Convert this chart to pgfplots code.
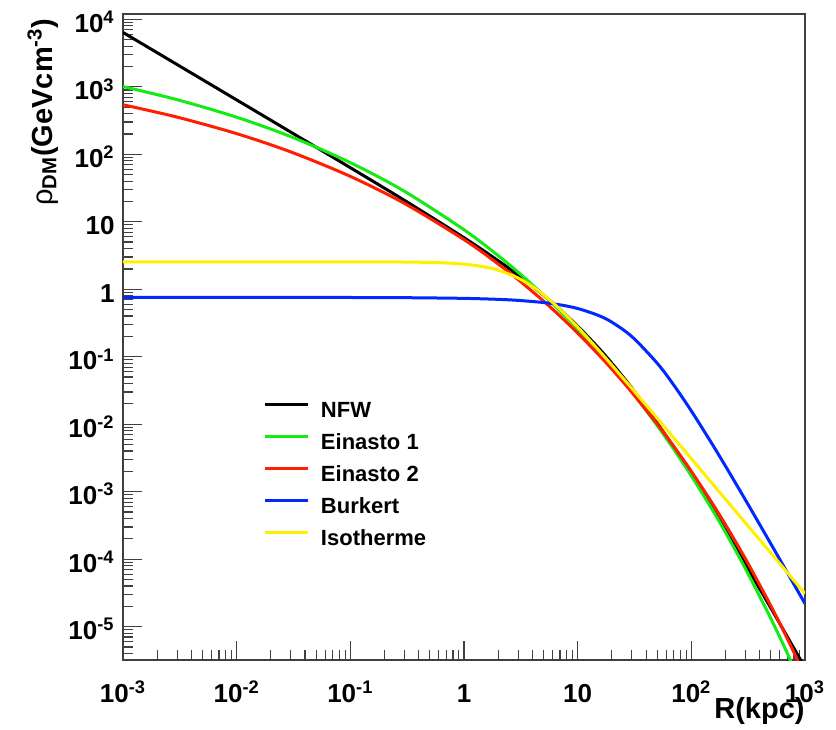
\documentclass[border=0pt]{standalone}
\usepackage{fontspec}
\setmainfont{Liberation Sans}
\usepackage{pgfplots}
\pgfplotsset{compat=1.18}
\definecolor{cgreen}{RGB}{20,235,20}
\definecolor{cred}{RGB}{255,30,0}
\definecolor{cblue}{RGB}{0,40,255}
\definecolor{cyellow}{RGB}{255,240,0}
\newcommand{\E}[1]{\textbf{10\textsuperscript{#1}}}
\begin{document}
\begin{tikzpicture}
\useasboundingbox (-61.5pt,-34.5pt) rectangle (356.5pt,330pt);
\begin{axis}[
  scale only axis, width=341pt, height=323pt,
  xmode=log, ymode=log,
  xmin=1e-3, xmax=1e3, ymin=3.2e-6, ymax=1.2e4,
  axis line style={black!75, line width=0.75pt},
  tick style={black!75, line width=0.6pt},
  tick align=inside,
  xtick pos=bottom, ytick pos=left,
  major tick length=9.5pt, minor tick length=5pt,
  xtick={1e-3,1e-2,0.1,1,10,100,1000},
  xticklabels={\E{-3},\E{-2},\E{-1},\textbf{1},\textbf{10},\E{2},\E{3}},
  minor xtick={2e-3,3e-3,4e-3,5e-3,6e-3,7e-3,8e-3,9e-3,
    2e-2,3e-2,4e-2,5e-2,6e-2,7e-2,8e-2,9e-2,
    0.2,0.3,0.4,0.5,0.6,0.7,0.8,0.9,
    2,3,4,5,6,7,8,9,
    20,30,40,50,60,70,80,90,
    200,300,400,500,600,700,800,900},
  ytick={1e-5,1e-4,1e-3,1e-2,1e-1,1,10,100,1000,10000},
  yticklabels={\E{-5},\E{-4},\E{-3},\E{-2},\E{-1},\textbf{1},\textbf{10},\E{2},\E{3},\E{4}},
  minor ytick={4e-6,5e-6,6e-6,7e-6,8e-6,9e-6,
    2e-5,3e-5,4e-5,5e-5,6e-5,7e-5,8e-5,9e-5,
    2e-4,3e-4,4e-4,5e-4,6e-4,7e-4,8e-4,9e-4,
    2e-3,3e-3,4e-3,5e-3,6e-3,7e-3,8e-3,9e-3,
    2e-2,3e-2,4e-2,5e-2,6e-2,7e-2,8e-2,9e-2,
    0.2,0.3,0.4,0.5,0.6,0.7,0.8,0.9,
    2,3,4,5,6,7,8,9,
    20,30,40,50,60,70,80,90,
    200,300,400,500,600,700,800,900,
    2000,3000,4000,5000,6000,7000,8000,9000},
  xticklabel style={font=\bfseries\fontsize{13}{15}\selectfont, anchor=base, inner sep=0pt, yshift=-21pt},
  yticklabel style={font=\bfseries\fontsize{13}{15}\selectfont, anchor=base east, inner sep=0pt, xshift=-4pt, yshift=-6.5pt},
  xlabel={R(kpc)},
  xlabel style={font=\bfseries\fontsize{14.5}{16}\selectfont, at={(axis description cs:1,-0.0898)}, anchor=base east, inner sep=0pt},
  ylabel={{\mdseries ρ}\textsubscript{DM}(GeVcm\textsuperscript{-3})},
  ylabel style={font=\bfseries\fontsize{14.5}{16}\selectfont, at={(axis description cs:-0.1041,0.9938)}, anchor=base east, inner sep=0pt},
  every axis plot/.append style={line width=1.5pt, no markers, smooth},
  legend style={draw=none, fill=none, at={(0.2067,0.4087)}, anchor=north west,
    inner sep=0pt, outer sep=0pt, row sep=0pt, column sep=0pt,
    font=\bfseries\fontsize{11}{13}\selectfont,
    nodes={inner sep=0pt, text height=11pt, text depth=5pt}},
  legend cell align=left,
  legend image code/.code={\draw[#1] (0pt,3.8pt) -- (21.5pt,3.8pt); \path (27pt,0pt);},
]
\addplot[black] coordinates {(0.001,6400)(0.003,2133)(0.01,639.4)(0.03,212.7)(0.1,63.37)(0.3,20.71)(1,5.805)(2,2.645)(3,1.613)(5,0.8192)(7,0.5017)(10,0.2844)(15,0.1393)(20,0.08)(30,0.03413)(50,0.01045)(70,0.004515)(100,0.001778)(150,5.905e-4)(200,2.645e-4)(300,8.333e-5)(500,1.893e-5)(700,7.055e-6)(1000,2.461e-6)};
\addlegendentry{NFW}
\addplot[cgreen] coordinates {(0.001,1008.8)(0.003,644.1)(0.01,354.3)(0.03,182.4)(0.1,75.30)(0.3,28.23)(1,7.625)(2,3.150)(3,1.785)(5,0.8243)(7,0.4769)(10,0.2578)(15,0.1222)(20,0.0697)(30,0.03010)(50,0.009592)(70,0.004271)(100,0.0017195)(150,5.699e-4)(200,2.484e-4)(300,7.17e-5)(500,1.323e-5)(700,3.995e-6)(1000,1.041e-6)};
\addlegendentry{Einasto 1}
\addplot[cred] coordinates {(0.001,542.2)(0.003,355.4)(0.01,202.3)(0.03,108.3)(0.1,47.07)(0.3,18.67)(1,5.444)(2,2.368)(3,1.387)(5,0.6696)(7,0.4000)(10,0.2241)(15,0.1109)(20,0.06538)(30,0.02965)(50,0.010099)(70,0.004712)(100,0.0019995)(150,7.07e-4)(200,3.234e-4)(300,1.004e-4)(500,2.040e-5)(700,6.613e-6)(1000,1.859e-6)};
\addlegendentry{Einasto 2}
\addplot[cblue] coordinates {(0.001,0.757)(0.003,0.757)(0.01,0.7568)(0.03,0.7563)(0.1,0.7546)(0.3,0.7497)(1,0.7326)(2,0.7082)(3,0.6838)(5,0.6353)(7,0.5876)(10,0.5184)(15,0.4134)(20,0.3249)(30,0.1987)(50,0.08044)(70,0.03810)(100,0.015706)(150,0.005311)(200,0.0023834)(300,7.490e-4)(500,1.6923e-4)(700,6.284e-5)(1000,2.185e-5)};
\addlegendentry{Burkert}
\addplot[cyellow] coordinates {(0.001,2.55)(0.003,2.55)(0.01,2.55)(0.03,2.5498)(0.1,2.5479)(0.3,2.5312)(0.6,2.4764)(1,2.3555)(1.5,2.150)(2,1.9168)(3,1.4629)(4,1.0986)(5,0.8322)(7,0.5053)(10,0.27546)(15,0.13024)(20,0.07493)(30,0.033856)(50,0.012292)(70,0.006287)(100,0.0030843)(150,0.0013717)(200,7.718e-4)(300,3.431e-4)(500,1.2352e-4)(700,6.302e-5)(1000,3.088e-5)};
\addlegendentry{Isotherme}
\end{axis}
\end{tikzpicture}
\end{document}
